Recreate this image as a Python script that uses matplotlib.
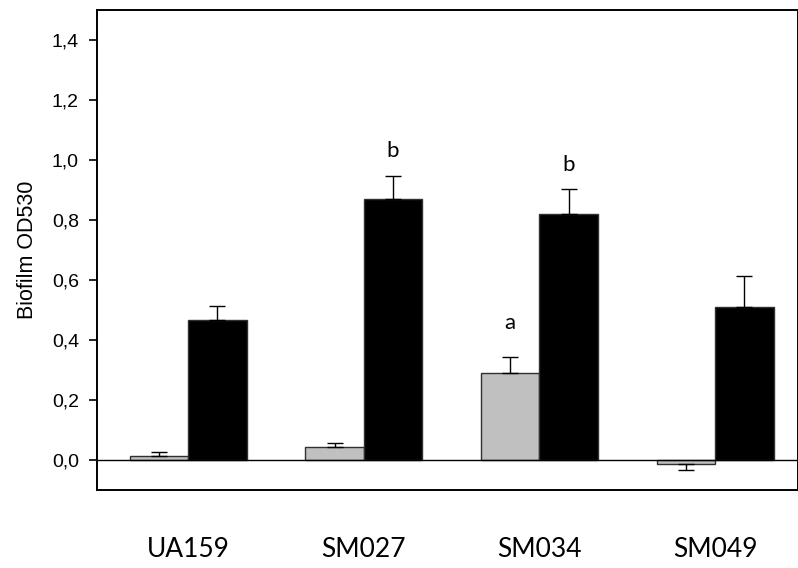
import numpy as np
import matplotlib.pyplot as plt

# strains and the two conditions (grey / black bars)
strains = ["UA159", "SM027", "SM034", "SM049"]
grey_vals = [0.013, 0.044, 0.290, -0.012]
grey_err = [0.015, 0.013, 0.054, 0.022]
black_vals = [0.466, 0.870, 0.821, 0.510]
black_err = [0.047, 0.077, 0.082, 0.105]

# significance letters: (strain index, series, letter)
letters = [(1, "black", "b"), (2, "black", "b"), (2, "grey", "a")]
letter_offsets = [18, 17.5, 24.5]  # points above the error cap

yticks = [0.0, 0.2, 0.4, 0.6, 0.8, 1.0, 1.2, 1.4]
ytick_labels = ["0,0", "0,2", "0,4", "0,6", "0,8", "1,0", "1,2", "1,4"]


def one_sided(vals, err):
    vals = np.asarray(vals)
    err = np.asarray(err)
    lower = np.where(vals < 0, err, 0)
    upper = np.where(vals >= 0, err, 0)
    return [lower, upper]


fig = plt.figure(figsize=(7.98, 5.68), dpi=100)
ax = fig.add_axes([0.1215, 0.137, 0.878, 0.845])

x = np.arange(len(strains))
w = 0.333

ax.bar(x - w / 2, grey_vals, w, color="#c0c0c0", edgecolor="#303030", linewidth=1.0, zorder=2)
ax.bar(x + w / 2, black_vals, w, color="black", edgecolor="#303030", linewidth=1.0, zorder=2)
ax.errorbar(x - w / 2, grey_vals, yerr=one_sided(grey_vals, grey_err), fmt="none",
            ecolor="black", elinewidth=1.0, capsize=6, capthick=1.0, zorder=3)
ax.errorbar(x + w / 2, black_vals, yerr=one_sided(black_vals, black_err), fmt="none",
            ecolor="black", elinewidth=1.0, capsize=6, capthick=1.0, zorder=3)

ax.axhline(0, color="black", linewidth=1.0, zorder=4)

for (i, series, letter), off in zip(letters, letter_offsets):
    if series == "black":
        xp, top = x[i] + w / 2, black_vals[i] + black_err[i]
    else:
        xp, top = x[i] - w / 2, grey_vals[i] + grey_err[i]
    ax.annotate(letter, (xp, top), xytext=(0, off), textcoords="offset points",
                ha="center", va="center", fontsize=16, family="Lato")

ax.set_xlim(-0.519, 3.47)
ax.set_ylim(-0.1, 1.5)
ax.set_yticks(yticks)
ax.set_yticklabels(ytick_labels, family="Liberation Sans", fontsize=14)
ax.set_xticks(x)
ax.set_xticklabels(strains, family="Lato", fontsize=19)
ax.tick_params(axis="x", length=0, pad=34)
ax.tick_params(axis="y", direction="out", length=6, width=1.2, pad=7)
ax.set_ylabel("Biofilm OD530", family="Liberation Sans", fontsize=15.5, labelpad=10)

for sp in ax.spines.values():
    sp.set_linewidth(1.4)
    sp.set_color("black")

fig.savefig("out.png", dpi=100)
